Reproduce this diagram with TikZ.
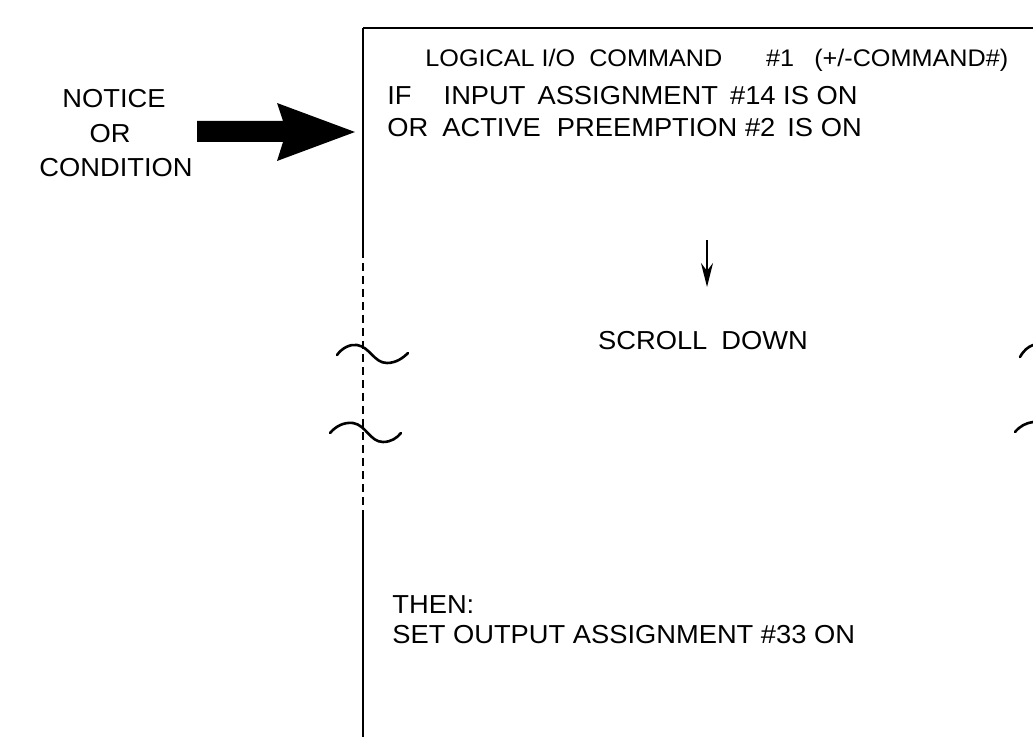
\documentclass[tikz,border=0pt]{standalone}
\usepackage{fontspec}
\setmainfont{Liberation Sans}[FakeStretch=1.05]
\usetikzlibrary{arrows.meta, calc, positioning}
\tikzset{
    txt/.style={anchor=base west, inner sep=0pt, font=\fontsize{13}{15}\selectfont},
    ctxt/.style={anchor=base, inner sep=0pt, font=\fontsize{13}{15}\selectfont},
    boxEdge/.style={line width=1.4pt},
    boxTop/.style={line width=1pt},
    breakMark/.style={line width=1.3pt, line cap=round},
    scrollArrow/.style={-{Stealth[length=12pt, width=6pt]}, line width=1pt},
}
\begin{document}
\begin{tikzpicture}[x=0.5pt, y=-0.5pt]
    \useasboundingbox (0,0) rectangle (1033,737);

    % screen frame
    \coordinate (tl) at (363,28);
    \coordinate (tr) at (1033,28);
    \coordinate (d1) at (363,250);
    \coordinate (d2) at (363,510);
    \coordinate (bl) at (363,737);
    \draw[boxTop] (tl) -- (tr);
    \draw[boxEdge] (tl) -- (d1);
    \draw[boxEdge, dash pattern=on 4pt off 2.5pt] (d1) -- (d2);
    \draw[boxEdge] (d2) -- (bl);

    % break marks
    \draw[breakMark] (337,355) .. controls (342,348) and (350,344) .. (357,345)
        .. controls (370,347) and (374,363) .. (387,363)
        .. controls (396,363) and (403,358) .. (408,353);
    \draw[breakMark] (330,433) .. controls (336,426) and (344,422) .. (353,423)
        .. controls (366,425) and (370,442) .. (383,442)
        .. controls (391,442) and (397,438) .. (401,433);
    \draw[breakMark] (1020,357) .. controls (1024,350) and (1028,347) .. (1033,345);
    \draw[breakMark] (1015,432) .. controls (1020,426) and (1026,423) .. (1033,422);

    % left labels
    \node[ctxt] (notice) at (114,108) {NOTICE};
    \node[ctxt] (or) at (110,143) {OR};
    \node[ctxt] (condition) at (116,177) {CONDITION};

    % fat arrow
    \coordinate (tip) at (355,132);
    \fill (tip) -- ++(-78,-29) -- ++(6,18) -- ++(-86,0) -- ++(0,21)
        -- ++(86,0) -- ++(-6,19) -- cycle;

    % screen text
    \node[txt, font=\fontsize{12}{14}\selectfont] (title) at (425,67)
        {LOGICAL I/O\hspace{7pt}COMMAND\hspace{22pt}\#1\hspace{10pt}(+/-COMMAND\#)};
    \node[txt] (ifline) at (387,105)
        {IF\hspace{16pt}INPUT\hspace{6pt}ASSIGNMENT\hspace{6pt}\#14 IS ON};
    \node[txt] (orline) at (387,137)
        {OR\hspace{7pt}ACTIVE\hspace{8pt}PREEMPTION \#2\hspace{6pt}IS ON};
    \node[ctxt] (scroll) at (703,350) {SCROLL\hspace{7pt}DOWN};
    \node[txt] (then) at (392,613) {THEN:};
    \node[txt] (setline) at (392,643) {SET OUTPUT ASSIGNMENT \#33 ON};

    \coordinate (s0) at (707,240);
    \coordinate (s1) at (707,287);
    \draw[scrollArrow] (s0) -- (s1);

\end{tikzpicture}
\end{document}
